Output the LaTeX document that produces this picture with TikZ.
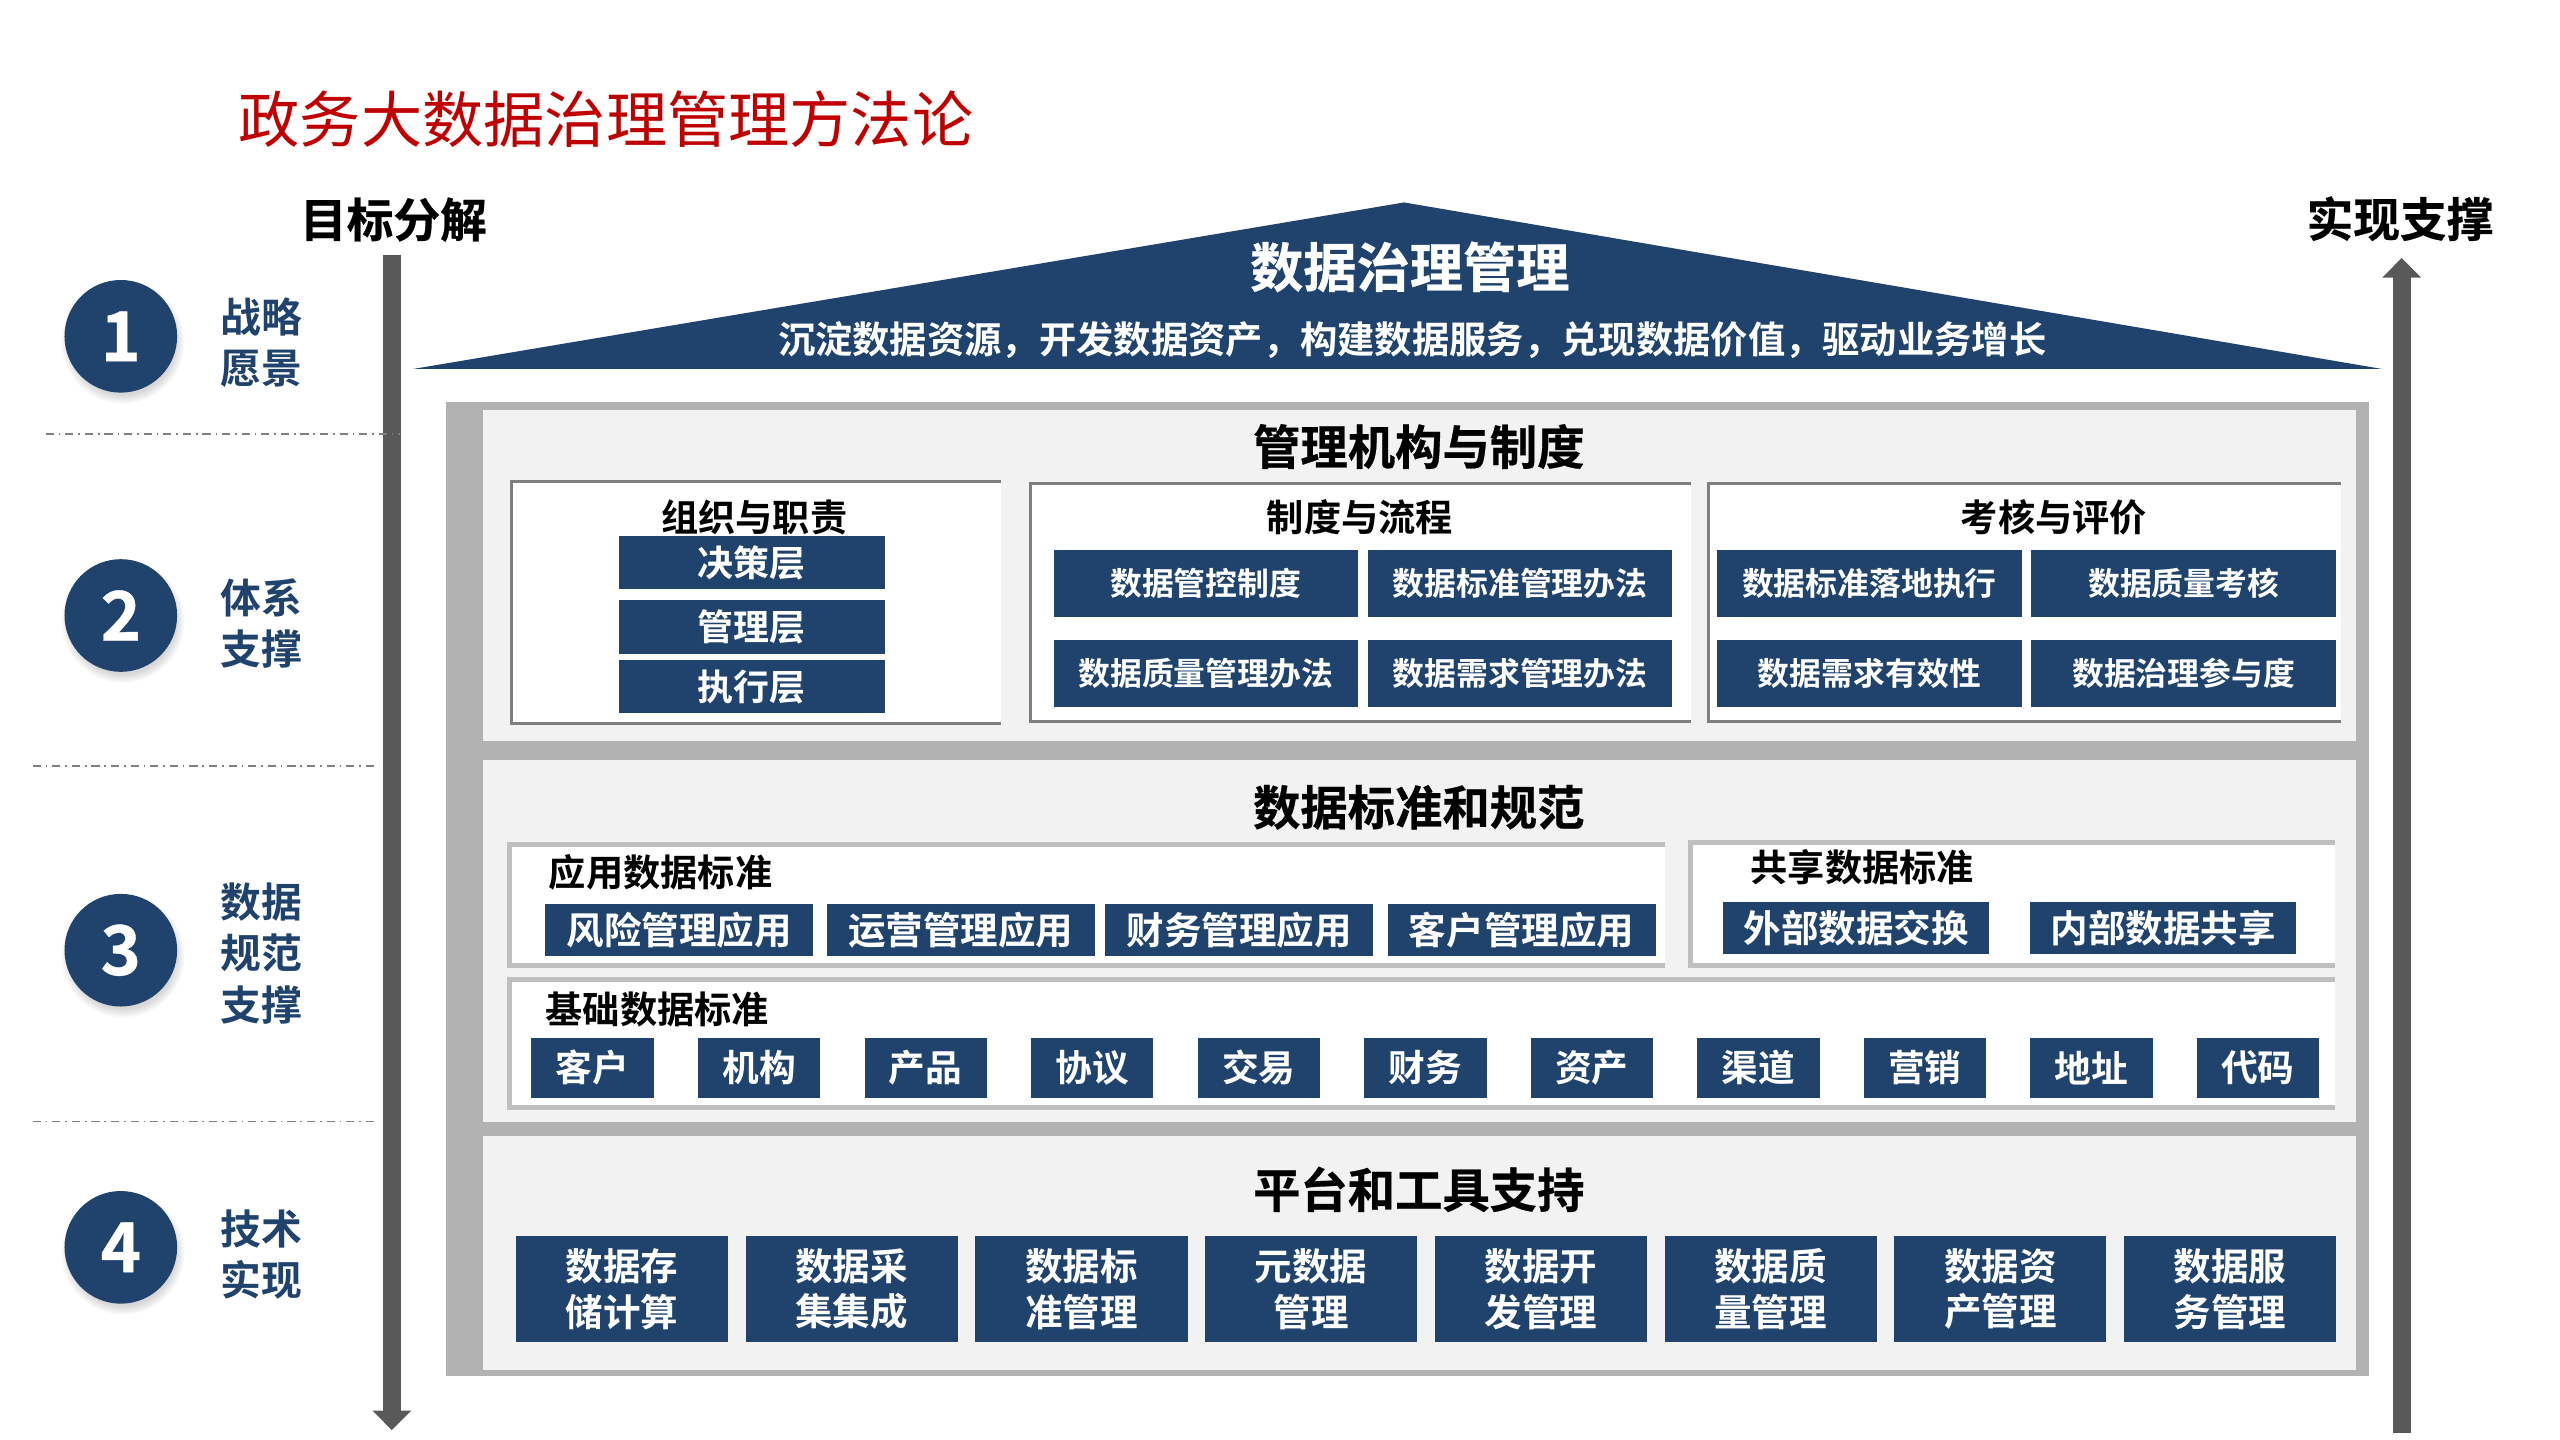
\documentclass[tikz,border=0pt]{standalone}
\usepackage{fontspec}
\setmainfont{Noto Sans CJK SC}[BoldFont={Noto Sans CJK SC Bold}]
\newfontfamily\cuti{Noto Sans CJK SC Bold}[FakeBold=0.6]
\usepackage{tikz}
\usetikzlibrary{arrows.meta,positioning,calc,shadows}
\definecolor{shenlan}{RGB}{31,67,108}
\definecolor{kuanghui}{RGB}{178,178,178}
\definecolor{dihui}{RGB}{242,242,242}
\definecolor{bianhui}{RGB}{127,127,127}
\definecolor{qianhui}{RGB}{191,191,191}
\definecolor{jianhui}{RGB}{89,89,89}
\definecolor{biaohong}{RGB}{192,0,0}
\newcommand{\zsize}[1]{\fontsize{#1}{#1}\selectfont}
\newcommand{\hezi}[5]{%
  \fill[white] (#1,#2) rectangle (#3,#4);
  \draw[line width=2pt,#5] (#3,#2) -- (#1,#2) -- (#1,#4) -- (#3,#4);}
\tikzset{
  anniu/.style={fill=shenlan,text=white,inner sep=0pt,align=center,font=\bfseries\zsize{19.5}},
  quan/.style={circle,fill=shenlan,text=white,inner sep=0pt,minimum size=69pt,font=\cuti\zsize{42},
               circular drop shadow={shadow xshift=1pt,shadow yshift=-3pt,opacity=.3}},
  cebiao/.style={text=shenlan,align=center,inner sep=0pt,font=\bfseries\fontsize{25}{31.5}\selectfont},
  dabiao/.style={inner sep=0pt,font=\cuti\zsize{29}},
  xiaobiao/.style={inner sep=0pt,font=\bfseries\zsize{22.8}},
  jiantou/.style={draw=jianhui,line width=11pt,-{Triangle[length=12pt,width=23pt]}},
  fenge/.style={draw=gray,line width=1pt,dash pattern=on 5pt off 3pt on 1pt off 3pt},
}

\begin{document}
\begin{tikzpicture}[x=1pt,y=-1pt]
  \useasboundingbox (0,0) rectangle (1568,882);
  \fill[white] (0,0) rectangle (1568,882);
  % biaoti
  \node[text=biaohong,inner sep=0pt,font=\zsize{37.5},anchor=west] (zongbiao) at (146,73) {政务大数据治理管理方法论};
  \node[dabiao,font=\cuti\zsize{28.6}] (mubiao) at (241,134.5) {目标分解};
  \node[dabiao,font=\cuti\zsize{28.6}] (shixian) at (1470,134) {实现支撑};
  % jiantou
  \coordinate (zuoshang) at (240,156);
  \coordinate (zuoxia) at (240,876);
  \coordinate (youxia) at (1471,878);
  \coordinate (youshang) at (1471,158);
  \draw[jiantou] (zuoshang) -- (zuoxia);
  \draw[jiantou] (youxia) -- (youshang);
  % fenge
  \draw[fenge] (28,266) -- (245,266);
  \draw[fenge] (20,469) -- (232,469);
  \draw[fenge] (20,687) -- (232,687);
  % quan
  \foreach \n/\y in {1/206,2/377,3/582,4/764}
    \node[quan] (q\n) at (74,\y) {\n};
  \node[cebiao] (ce1) at (160,210) {战略\\愿景};
  \node[cebiao] (ce2) at (160,382) {体系\\支撑};
  \node[cebiao] (ce3) at (160,584) {数据\\规范\\支撑};
  \node[cebiao] (ce4) at (160,768.5) {技术\\实现};
  % wuding
  \fill[shenlan] (253,226) -- (860,124) -- (1459,226) -- cycle;
  \node[text=white,inner sep=0pt,font=\cuti\zsize{32.6}] (wuding) at (863.5,163.5) {数据治理管理};
  \node[text=white,inner sep=0pt,font=\bfseries\zsize{22.85}] (zongzhi) at (865,208)
    {沉淀数据资源，开发数据资产，构建数据服务，兑现数据价值，驱动业务增长};
  % kuangjia
  \fill[kuanghui] (273,246) rectangle (1451,843);
  \fill[dihui] (296,251) rectangle (1443,454);
  \fill[dihui] (296,465.5) rectangle (1443,687);
  \fill[dihui] (296,696) rectangle (1443,839);

  % guanli jigou
  \node[dabiao] (jigou) at (869,273.5) {管理机构与制度};
  \hezi{313.5}{295}{613}{443}{bianhui}
  \hezi{631}{296}{1036}{442}{bianhui}
  \hezi{1046.5}{296}{1434}{442}{bianhui}
  \node[xiaobiao] (zuzhi) at (462,317) {组织与职责};
  \foreach \t/\y [count=\i] in {决策层/344.5,管理层/384,执行层/420.5}
    \node[anniu,font=\bfseries\zsize{22},minimum width=163pt,minimum height=33pt] (ceng\i) at (460.5,\y) {\t};
  \node[xiaobiao] (zhidu) at (833,317) {制度与流程};
  \foreach \t/\x/\y [count=\i] in {数据管控制度/738.5/357.5,数据标准管理办法/931/357.5,
                                   数据质量管理办法/738.5/412.5,数据需求管理办法/931/412.5}
    \node[anniu,minimum width=186pt,minimum height=41pt] (zd\i) at (\x,\y) {\t};
  \node[xiaobiao] (kaohe) at (1258,317) {考核与评价};
  \foreach \t/\x/\y [count=\i] in {数据标准落地执行/1145/357.5,数据质量考核/1337.5/357.5,
                                   数据需求有效性/1145/412.5,数据治理参与度/1337.5/412.5}
    \node[anniu,minimum width=187pt,minimum height=41pt] (kh\i) at (\x,\y) {\t};

  % shuju biaozhun
  \node[dabiao] (biaozhun) at (869,494.5) {数据标准和规范};
  \hezi{312}{517.5}{1020}{591.5}{qianhui,line width=3pt}
  \hezi{1035.5}{516}{1430}{591.5}{qianhui,line width=3pt}
  \hezi{312}{600}{1430}{678.5}{qianhui,line width=3pt}
  \node[xiaobiao,anchor=west] (yingyong) at (336,534) {应用数据标准};
  \foreach \t/\x [count=\i] in {风险管理应用/416,运营管理应用/588.5,财务管理应用/759,客户管理应用/932}
    \node[anniu,font=\bfseries\zsize{23},minimum width=164pt,minimum height=32pt] (yy\i) at (\x,569.5) {\t};
  \node[xiaobiao,anchor=west] (gongxiang) at (1072,531) {共享数据标准};
  \foreach \t/\x [count=\i] in {外部数据交换/1137,内部数据共享/1325}
    \node[anniu,font=\bfseries\zsize{23},minimum width=163pt,minimum height=32pt] (gx\i) at (\x,568.5) {\t};
  \node[xiaobiao,anchor=west] (jichu) at (334,618.5) {基础数据标准};
  \foreach \t [count=\i from 0] in {客户,机构,产品,协议,交易,财务,资产,渠道,营销,地址,代码}
    \node[anniu,font=\bfseries\zsize{22.5},minimum width=75pt,minimum height=37pt] (jc\i) at (363+102*\i,654) {\t};

  % pingtai gongju
  \node[dabiao] (pingtai) at (869,728.5) {平台和工具支持};
  \foreach \t [count=\i from 0] in {数据存\\储计算,数据采\\集集成,数据标\\准管理,元数据\\管理,
                                   数据开\\发管理,数据质\\量管理,数据资\\产管理,数据服\\务管理}
    \node[anniu,font=\bfseries\fontsize{23}{28}\selectfont,minimum width=130pt,minimum height=65pt] (gj\i) at (381+140.7*\i,789.5) {\t};
\end{tikzpicture}
\end{document}
